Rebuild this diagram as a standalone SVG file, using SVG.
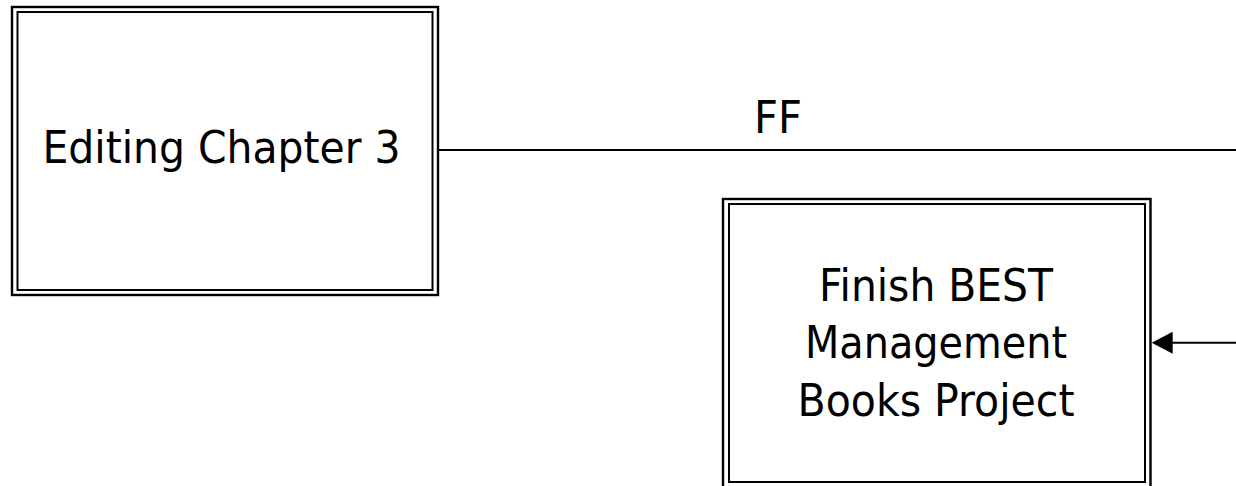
<svg xmlns="http://www.w3.org/2000/svg" width="1236" height="486" viewBox="0 0 1236 486">
<style>
.outer{fill:none;stroke:#000;stroke-width:2.4}
.inner{fill:none;stroke:#000;stroke-width:2}
.lbl{font-family:"DejaVu Sans","Liberation Sans",sans-serif;font-size:45px;fill:#000;text-anchor:middle}
.conn{stroke:#000;stroke-width:2;fill:none}
</style>
<rect width="1236" height="486" fill="#fff"/>
<g id="node-editing">
<rect class="outer" x="12" y="7" width="426" height="288"/>
<rect class="inner" x="17.5" y="12" width="415" height="278"/>
<text class="lbl" x="221.5" y="163" textLength="358" lengthAdjust="spacingAndGlyphs">Editing Chapter 3</text>
</g>
<g id="node-finish">
<rect class="outer" x="723" y="199" width="427.5" height="290"/>
<rect class="inner" x="729" y="204" width="416" height="278"/>
<text class="lbl" x="936" y="301" textLength="234" lengthAdjust="spacingAndGlyphs">Finish BEST</text>
<text class="lbl" x="936" y="358" textLength="262" lengthAdjust="spacingAndGlyphs">Management</text>
<text class="lbl" x="936" y="416" textLength="277" lengthAdjust="spacingAndGlyphs">Books Project</text>
</g>
<g id="connectors">
<line class="conn" x1="439" y1="150" x2="1236" y2="150"/>
<text class="lbl" x="778" y="133" textLength="48" lengthAdjust="spacingAndGlyphs">FF</text>
<line class="conn" x1="1236" y1="342.7" x2="1170" y2="342.7"/>
<polygon points="1151.7,342.7 1172.7,331.7 1172.7,353.7" fill="#000"/>
</g>
</svg>
